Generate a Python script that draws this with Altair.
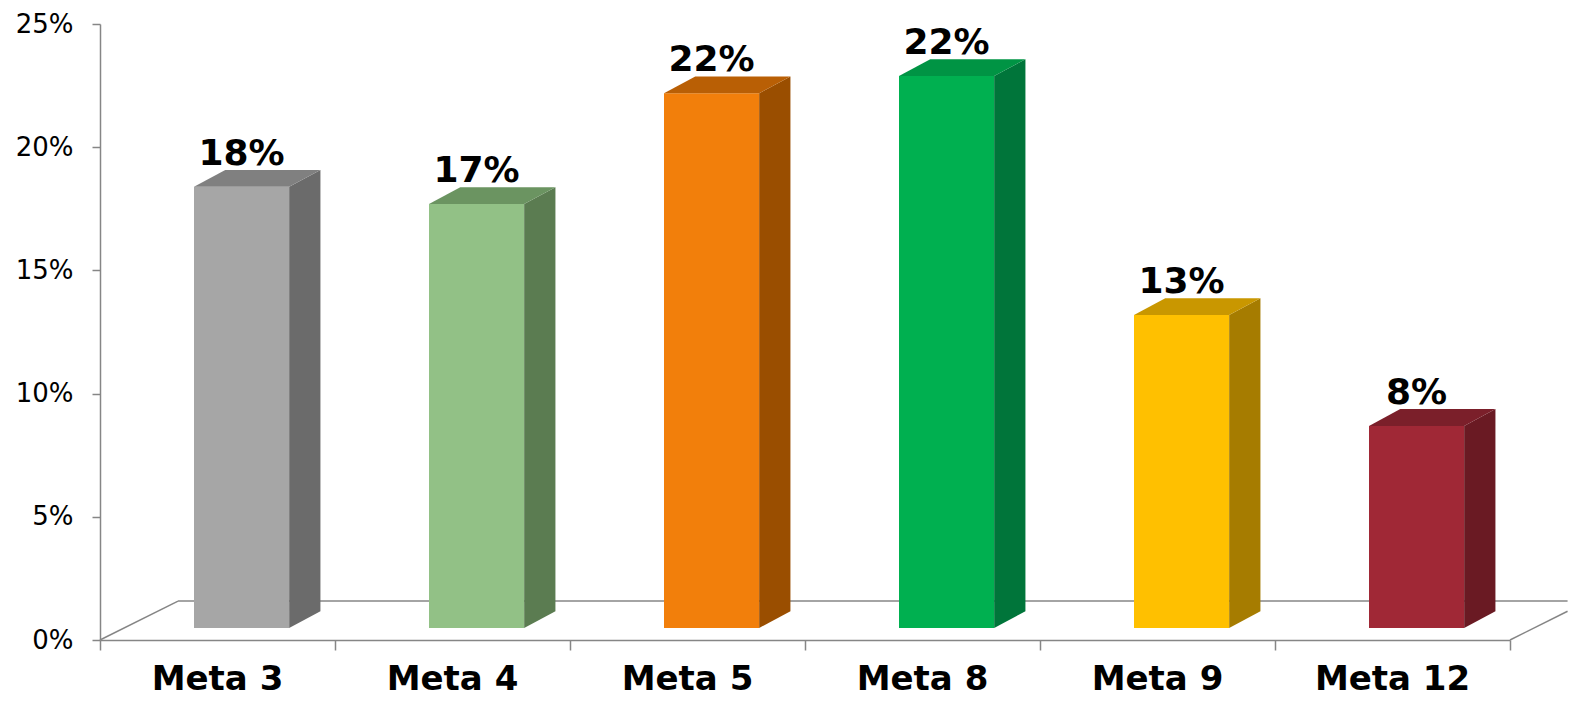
import altair as alt
import pandas as pd

# ---- data ----
categories = ["Meta 3", "Meta 4", "Meta 5", "Meta 8", "Meta 9", "Meta 12"]
values = [0.179, 0.172, 0.217, 0.224, 0.127, 0.082]
front_colors = ["#A6A6A6", "#92C186", "#F27F0B", "#00B050", "#FFC000", "#A02836"]
side_colors = ["#6B6B6B", "#5B7C51", "#9A4E00", "#00753A", "#A67C00", "#6A1A23"]
top_colors = ["#808080", "#6B9461", "#B95F05", "#009444", "#C99700", "#7B1F2A"]
y_ticks = [0, 0.05, 0.10, 0.15, 0.20, 0.25]

# ---- 3D style constants (in scale units) ----
FL, FR = 0.40, 0.805        # front face within each category slot
DX = 0.133                  # depth, horizontal (category units)
BASE = 0.0049               # bars stand slightly above the front floor edge
DY = 0.0068                 # depth, vertical (value units)
FDX, FD = 0.332, 0.0158     # floor depth
XEND = 6.245

W, H = 1410, 616
N = len(categories)

front = pd.DataFrame({
    "cat": categories,
    "x": [i + FL for i in range(N)],
    "x2": [i + FR for i in range(N)],
    "y": [BASE] * N,
    "y2": [v + BASE for v in values],
    "color": front_colors,
    "v": values,
    "cx": [i + (FL + FR) / 2 for i in range(N)],
    "ly": [v + BASE + DY for v in values],
    "lx": [i + 0.5 for i in range(N)],
})

side_rows, top_rows = [], []
for i, (c, v) in enumerate(zip(categories, values)):
    side_rows.append({"cat": c, "x": i + FR, "y": BASE, "y2": v + BASE, "color": side_colors[i]})
    side_rows.append({"cat": c, "x": i + FR + DX, "y": BASE + DY, "y2": v + BASE + DY, "color": side_colors[i]})
    top_rows.append({"cat": c, "y": v + BASE, "x": i + FL, "x2": i + FR, "color": top_colors[i]})
    top_rows.append({"cat": c, "y": v + BASE + DY, "x": i + FL + DX, "x2": i + FR + DX, "color": top_colors[i]})
side = pd.DataFrame(side_rows)
top = pd.DataFrame(top_rows)

floor = pd.DataFrame({
    "seg": ["a", "a", "b", "b", "c", "c"],
    "x": [0, FDX, FDX, XEND, N, XEND],
    "y": [0, FD, FD, FD, 0, FD * (XEND - N) / FDX],
})

GRAY = "#868686"
FONT = "DejaVu Sans"
xscale = alt.Scale(domain=[0, N], nice=False, zero=False)
yscale = alt.Scale(domain=[0, 0.25], nice=False)
xaxis = alt.Axis(values=list(range(N + 1)), labels=False, title=None, grid=False,
                 tickSize=10, tickColor=GRAY, domainColor=GRAY, tickWidth=1.5, domainWidth=1.5)
yaxis = alt.Axis(values=y_ticks, format=".0%", title=None, grid=False, tickSize=8,
                 tickColor=GRAY, domainColor=GRAY, tickWidth=1.5, domainWidth=1.5,
                 labelFont=FONT, labelFontSize=26, labelColor="black", labelPadding=19)

floor_layer = alt.Chart(floor).mark_line(color=GRAY, strokeWidth=1.5).encode(
    x=alt.X("x:Q", scale=xscale, axis=xaxis),
    y=alt.Y("y:Q", scale=yscale, axis=yaxis),
    detail="seg:N",
)

front_layer = alt.Chart(front).mark_rect().encode(
    x=alt.X("x:Q", scale=xscale, axis=xaxis),
    x2="x2:Q",
    y=alt.Y("y:Q", scale=yscale, axis=yaxis),
    y2="y2:Q",
    color=alt.Color("color:N", scale=None),
)

side_layer = alt.Chart(side).mark_area(orient="vertical").encode(
    x=alt.X("x:Q", scale=xscale, axis=xaxis),
    y=alt.Y("y:Q", scale=yscale, axis=yaxis),
    y2="y2:Q",
    color=alt.Color("color:N", scale=None),
    detail="cat:N",
)

top_layer = alt.Chart(top).mark_area(orient="horizontal").encode(
    y=alt.Y("y:Q", scale=yscale, axis=yaxis),
    x=alt.X("x:Q", scale=xscale, axis=xaxis),
    x2="x2:Q",
    color=alt.Color("color:N", scale=None),
    detail="cat:N",
)

value_labels = alt.Chart(front).mark_text(
    font=FONT, fontSize=36, fontWeight="bold", color="black",
    baseline="alphabetic", align="center", dy=-5,
).encode(
    x=alt.X("cx:Q", scale=xscale, axis=xaxis),
    y=alt.Y("ly:Q", scale=yscale, axis=yaxis),
    text=alt.Text("v:Q", format=".0%"),
)

cat_labels = alt.Chart(front).mark_text(
    font=FONT, fontSize=34, fontWeight="bold", color="black",
    baseline="alphabetic", align="center",
).encode(
    x=alt.X("lx:Q", scale=xscale, axis=xaxis),
    y=alt.value(H + 50),
    text="cat:N",
)

chart = alt.layer(
    floor_layer, front_layer, side_layer, top_layer, value_labels, cat_labels
).properties(
    width=W, height=H,
    autosize="none",
    padding={"left": 92, "top": 16, "right": 58, "bottom": 60},
).configure_view(stroke=None)

chart.save("out.html", embed_options={"renderer": "svg", "actions": False})
